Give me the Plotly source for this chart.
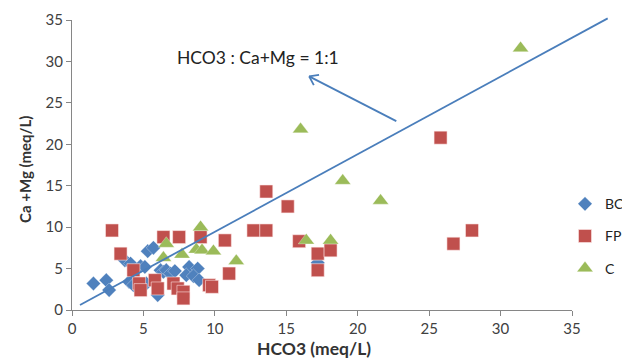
import numpy as np
import plotly.graph_objects as go

# ---- data ----
bc_x = [1.5, 2.4, 2.6, 3.7, 4.1, 4.0, 4.8, 5.3, 5.7, 5.2, 4.3, 6.0, 6.2, 6.4, 6.6, 6.9, 7.2,
        8.2, 8.8, 8.0, 8.5, 8.9, 5.1, 17.2]
bc_y = [3.2, 3.6, 2.4, 6.0, 5.6, 3.4, 5.3, 7.1, 7.5, 3.2, 3.0, 1.8, 4.8, 4.6, 4.8, 4.4, 4.7,
        5.2, 5.0, 4.2, 4.1, 3.6, 5.2, 5.7]

fp_x = [2.8, 3.4, 4.3, 4.7, 4.8, 5.8, 6.0, 6.4, 7.5, 9.0, 7.1, 7.4, 7.8, 7.8, 9.6, 9.8,
        10.7, 11.0, 12.7, 13.6, 13.6, 15.1, 15.9, 17.2, 18.1, 17.2, 25.8, 26.7, 28.0]
fp_y = [9.6, 6.8, 4.8, 3.2, 2.4, 3.6, 2.6, 8.8, 8.8, 8.8, 3.2, 2.6, 2.2, 1.4, 3.0, 2.8,
        8.4, 4.4, 9.6, 9.6, 14.3, 12.5, 8.3, 6.8, 7.2, 4.8, 20.8, 8.0, 9.6]

c_x = [6.6, 6.4, 9.0, 7.7, 8.7, 9.1, 9.9, 11.5, 16.0, 16.4, 18.1, 18.95, 21.6, 31.4]
c_y = [8.0, 6.3, 10.0, 6.7, 7.3, 7.2, 7.1, 5.9, 21.8, 8.4, 8.4, 15.6, 13.2, 31.6]

# 1:1 reference line (drawn line) end points, in data units
ref_x = [0.56, 37.5]
ref_y = [0.6, 35.2]
# arrow: tail -> tip, in data units
arrow_x = [22.7, 16.6]
arrow_y = [22.8, 28.2]
label_text = "HCO3 : Ca+Mg = 1:1"
label_pos = [7.2, 30.5]
x_title = "HCO3 (meq/L)"
y_title = "Ca +Mg (meq/L)"

x_ticks = [0, 5, 10, 15, 20, 25, 30, 35]
y_ticks = [0, 5, 10, 15, 20, 25, 30, 35]
X_MAX, Y_MAX = 35, 35

# page has an 8px body margin, so the figure is 8px smaller
W, H = 622, 354
ML, MR, MT, MB = 64, 58, 12, 52
pw, ph = W - ML - MR, H - MT - MB

BLUE = "#4F81BD"
RED = "#C0504D"
GREEN = "#9BBB59"
LINE = "#4A7EBB"
FONT = "Lato, Open Sans, sans-serif"

fig = go.Figure()
fig.add_trace(go.Scatter(x=bc_x, y=bc_y, mode="markers", name="BC", legendgroup="a",
                         marker=dict(symbol="diamond", size=11, color=BLUE,
                                     line=dict(width=0.5, color="rgba(255,255,255,0.6)"))))
fig.add_trace(go.Scatter(x=fp_x, y=fp_y, mode="markers", name="FP", legendgroup="b",
                         marker=dict(symbol="square", size=13, color=RED,
                                     line=dict(width=0.7, color="rgba(255,235,235,0.8)"))))
fig.add_trace(go.Scatter(x=c_x, y=c_y, mode="markers", name="C", legendgroup="c",
                         marker=dict(symbol="triangle-up", size=14, color=GREEN,
                                     line=dict(width=0.5, color="rgba(255,255,255,0.6)"))))

shapes = []
# reference line in paper coords (extends beyond the axis)
shapes.append(dict(type="line", xref="paper", yref="paper",
                   x0=ref_x[0] / X_MAX, y0=ref_y[0] / Y_MAX,
                   x1=ref_x[1] / X_MAX, y1=ref_y[1] / Y_MAX,
                   line=dict(color=LINE, width=1.8)))
# arrow shaft
shapes.append(dict(type="line", xref="x", yref="y",
                   x0=arrow_x[0], y0=arrow_y[0], x1=arrow_x[1], y1=arrow_y[1],
                   line=dict(color=LINE, width=1.8)))
# arrow head (open V)
sx, sy = pw / X_MAX, ph / Y_MAX
dx = (arrow_x[0] - arrow_x[1]) * sx
dy = -(arrow_y[0] - arrow_y[1]) * sy
ang = np.arctan2(dy, dx)
L = 10
for da in (np.radians(35), -np.radians(35)):
    ex = L * np.cos(ang + da)
    ey = L * np.sin(ang + da)
    shapes.append(dict(type="line", xref="x", yref="y",
                       x0=arrow_x[1], y0=arrow_y[1],
                       x1=arrow_x[1] + ex / sx, y1=arrow_y[1] - ey / sy,
                       line=dict(color=LINE, width=1.8)))

annotations = [
    dict(x=label_pos[0], y=label_pos[1], xref="x", yref="y",
         text=label_text, showarrow=False, xanchor="left", yanchor="middle",
         font=dict(family=FONT, size=17.5, color="#222222")),
    dict(x=0.484, y=-0.134, xref="paper", yref="paper", text="<b>" + x_title + "</b>",
         showarrow=False, xanchor="center", yanchor="middle",
         font=dict(family=FONT, size=17.5, color="#333333")),
    dict(x=-0.094, y=0.483, xref="paper", yref="paper", text="<b>" + y_title + "</b>",
         showarrow=False, xanchor="center", yanchor="middle", textangle=-90,
         font=dict(family=FONT, size=15, color="#333333")),
]

fig.update_layout(
    width=W, height=H,
    margin=dict(l=ML, r=MR, t=MT, b=MB, autoexpand=False),
    plot_bgcolor="white", paper_bgcolor="white",
    font=dict(family=FONT, size=14, color="#404040"),
    shapes=shapes,
    annotations=annotations,
    legend=dict(x=0.986, xanchor="left", y=0.42, yanchor="top",
                font=dict(family=FONT, size=14, color="#222222"),
                tracegroupgap=11, bgcolor="rgba(0,0,0,0)"),
    xaxis=dict(range=[0, X_MAX], tickvals=x_ticks, showline=True, linecolor="#868686",
               ticks="outside", ticklen=5, tickcolor="#868686", showgrid=False, zeroline=False,
               tickfont=dict(size=15, color="#404040")),
    yaxis=dict(range=[0, Y_MAX], tickvals=y_ticks, showline=True, linecolor="#868686",
               ticks="outside", ticklen=5, tickcolor="#868686", showgrid=False, zeroline=False,
               tickfont=dict(size=15, color="#404040")),
)

fig.write_html("out.html")
